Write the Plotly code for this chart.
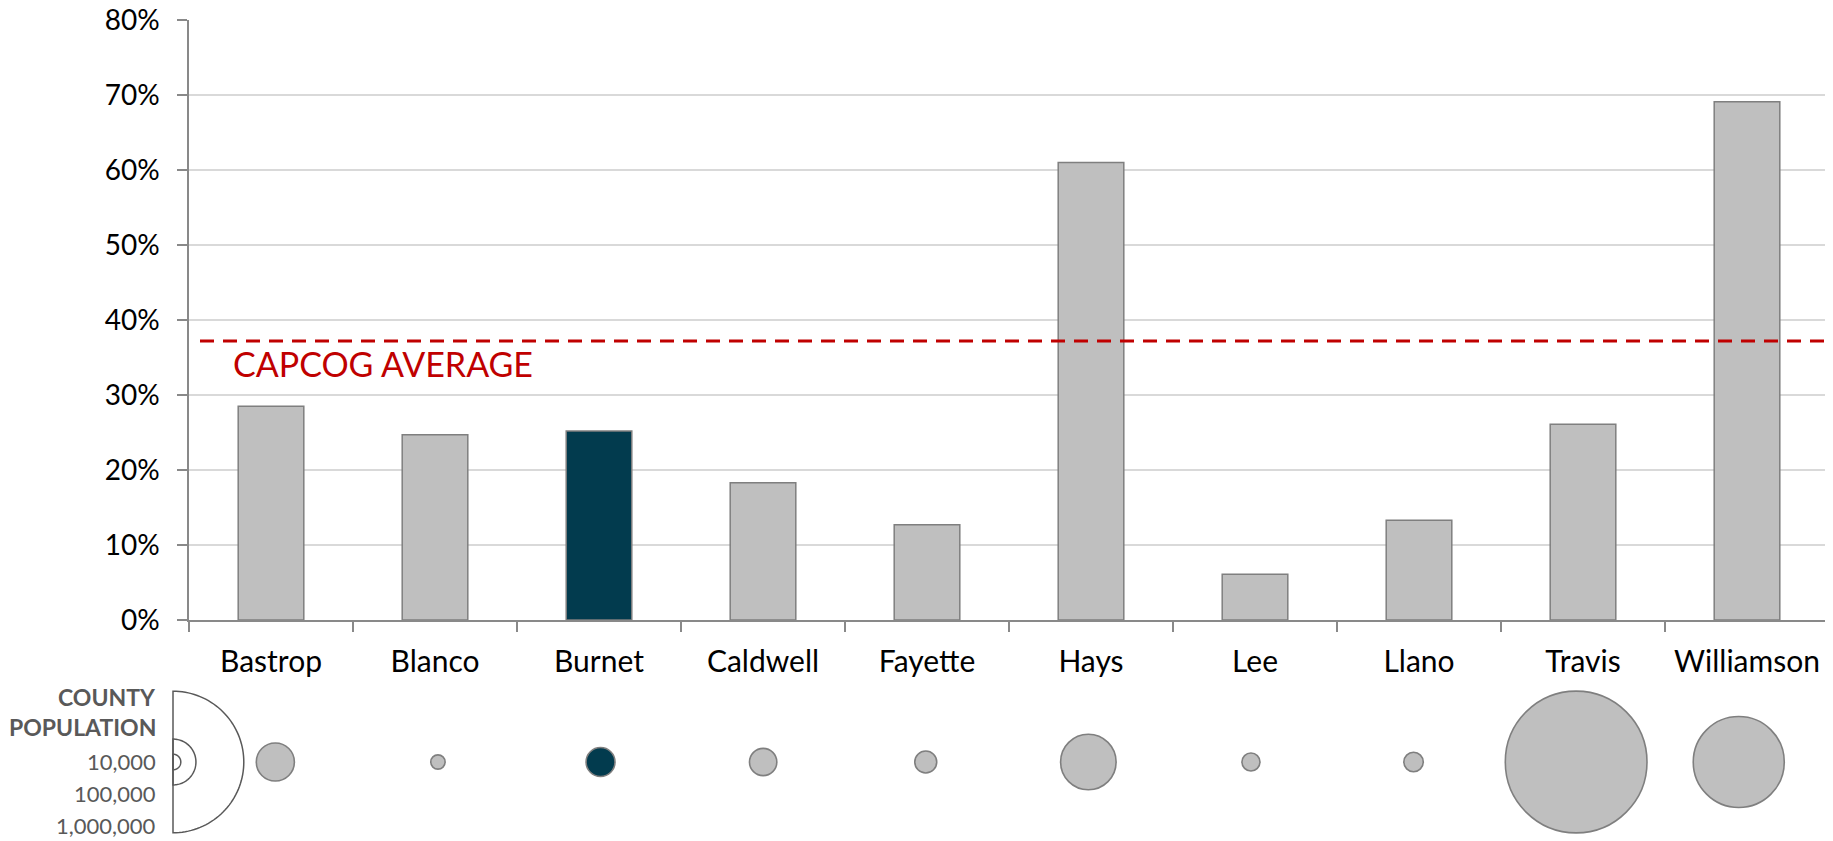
import math
import plotly.graph_objects as go

# ---------------- data ----------------
counties = ["Bastrop", "Blanco", "Burnet", "Caldwell", "Fayette",
            "Hays", "Lee", "Llano", "Travis", "Williamson"]
share = [0.285, 0.247, 0.252, 0.183, 0.127, 0.610, 0.061, 0.133, 0.261, 0.691]
population = [74000, 10500, 42750, 38100, 24550, 157100, 16600, 19300, 1024300, 422700]
highlight = "Burnet"
capcog_avg = 0.372
legend_pops = [10000, 100000, 1000000]
legend_labels = ["10,000", "100,000", "1,000,000"]

# ---------------- style ----------------
OFF = 8                      # page body margin offset
W, H = 1833 - OFF, 841 - OFF
FONT = "Lato"
GREY_FILL = "#BFBFBF"
GREY_LINE = "#7F7F7F"
HILITE = "#023B4E"
RED = "#C00000"
AXIS = "#898989"
GRID = "#D9D9D9"
TXT2 = "#595959"

L_MARGIN = 189 - OFF
R_MARGIN = W - (1829 - OFF)
PLOT_W = W - L_MARGIN - R_MARGIN


def px_to_paper_x(px):      # px in screen coordinates
    return (px - OFF - L_MARGIN) / PLOT_W


def px_to_paper_y(py):      # py in screen coordinates
    return (H - (py - OFF)) / H


fills = [HILITE if c == highlight else GREY_FILL for c in counties]

fig = go.Figure()

fig.add_trace(go.Bar(
    x=counties, y=share,
    marker=dict(color=fills, line=dict(color=GREY_LINE, width=1.5)),
    xaxis="x", yaxis="y", hoverinfo="x+y",
))

# bubble row (area-proportional); plotly: diameter = sqrt(2*v/sizeref)
D_MAX = 140.0  # marker diameter (px) for 1,000,000
sizeref = 2 * 1_000_000 / D_MAX ** 2
idx = list(range(1, len(counties) + 1))
fig.add_trace(go.Scatter(
    x=idx, y=[0] * len(counties), mode="markers",
    marker=dict(size=population, sizemode="area", sizeref=sizeref, sizemin=1,
                opacity=1, color=fills, line=dict(color=GREY_LINE, width=1.6)),
    xaxis="x2", yaxis="y2", cliponaxis=False, hovertext=counties, hoverinfo="text",
))

# ---------------- legend semicircles ----------------
shapes = []
for v in legend_pops:
    r = math.sqrt(2 * v / sizeref) / 2 + 0.8
    pts = []
    n = 72
    for k in range(n + 1):
        a = -math.pi / 2 + math.pi * k / n
        pts.append((r * math.cos(a), r * math.sin(a)))
    path = "M" + " L".join(f"{x:.2f},{y:.2f}" for x, y in pts) + " Z"
    shapes.append(dict(type="path", path=path, xref="paper", yref="y2",
                       xsizemode="pixel", ysizemode="pixel",
                       xanchor=px_to_paper_x(173), yanchor=0,
                       line=dict(color=TXT2, width=1.5),
                       fillcolor="rgba(0,0,0,0)", layer="above"))

# CAPCOG average dashed line
shapes.append(dict(type="line", xref="paper", yref="y",
                   x0=px_to_paper_x(200), x1=px_to_paper_x(1826),
                   y0=capcog_avg, y1=capcog_avg,
                   line=dict(color=RED, width=3.2, dash="14px,9px"),
                   layer="above"))

annotations = [
    dict(text="CAPCOG AVERAGE", xref="paper", yref="y",
         x=px_to_paper_x(231), y=capcog_avg, xanchor="left", yanchor="top",
         yshift=0, showarrow=False, font=dict(family=FONT, size=34, color=RED)),
]
leg_text = [("<b>COUNTY</b>", 697, 23), ("<b>POPULATION</b>", 727, 23)]
leg_text += [(lab, yy, 22) for lab, yy in zip(legend_labels, [761, 793, 825])]
for t, yy, sz in leg_text:
    annotations.append(dict(text=t, xref="paper", yref="paper",
                            x=px_to_paper_x(158), y=px_to_paper_y(yy),
                            xanchor="right", yanchor="middle", showarrow=False,
                            font=dict(family=FONT, size=sz, color=TXT2)))

fig.update_layout(
    width=W, height=H,
    margin=dict(l=L_MARGIN, r=R_MARGIN, t=0, b=0, autoexpand=False),
    paper_bgcolor="white", plot_bgcolor="white",
    showlegend=False, bargap=0.6,
    font=dict(family=FONT, color="black"),
    xaxis=dict(domain=[0, 1], anchor="y", type="category", automargin=False,
               showline=True, linecolor=AXIS, linewidth=1.5,
               ticks="outside", tickson="boundaries", ticklen=10,
               tickcolor=AXIS, tickwidth=1.5,
               tickfont=dict(family=FONT, size=30, color="black"),
               showgrid=False, ticklabelstandoff=14),
    yaxis=dict(domain=[px_to_paper_y(620), px_to_paper_y(20)], anchor="x",
               automargin=False, ticklabeloverflow="allow",
               range=[0, 0.8], dtick=0.1, tickformat=".0%",
               showline=True, linecolor=AXIS, linewidth=1.5,
               ticks="outside", ticklen=10, tickcolor=AXIS, tickwidth=1.5,
               showgrid=True, gridcolor=GRID, gridwidth=1.5, zeroline=False,
               tickfont=dict(family=FONT, size=28, color="black"),
               ticklabelstandoff=12),
    xaxis2=dict(domain=[0, 1], anchor="y2", range=[0.469, 10.555], visible=False,
                automargin=False),
    yaxis2=dict(domain=[0, 2 * px_to_paper_y(762)], anchor="x2", range=[-1, 1],
                visible=False, automargin=False),
    shapes=shapes,
    annotations=annotations,
)

fig.write_html("out.html")
